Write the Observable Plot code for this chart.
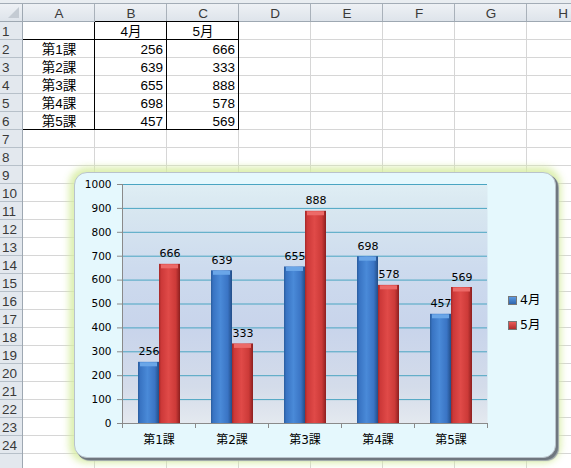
<!DOCTYPE html>
<html><head><meta charset="utf-8">
<script src="https://cdn.jsdelivr.net/npm/d3@7"></script>
<script src="https://cdn.jsdelivr.net/npm/@observablehq/plot@0.6"></script>
<style>
html,body{margin:0;padding:0;}
body{width:571px;height:468px;overflow:hidden;background:#fff;position:relative;font-family:"Noto Sans CJK JP",sans-serif;}
#chart{position:absolute;left:74px;top:172px;width:482px;height:286px;}
#chartbg{position:absolute;left:0;top:0;width:482px;height:286px;box-sizing:border-box;border-radius:13px;background:#e5f8fd;
  border:1px solid #b9c3cb;box-shadow:2px 2px 0 0 #6f777f,3px 3px 1px 0 #9aa2a8,0 0 7px 5px rgba(214,236,160,0.85);}
#chart svg{position:absolute;left:0;top:0;}
.leg{position:absolute;left:434px;font-family:"DejaVu Sans","Noto Sans CJK JP",sans-serif;font-size:12.5px;color:#000;line-height:16px;height:16px;white-space:nowrap;}
.leg i{display:inline-block;width:7px;height:7px;border:1px solid #777;margin-right:3px;vertical-align:-1px;}
</style></head><body>
<div id="sheet"></div>
<div id="chart"><div id="chartbg"></div></div>
<script>
// ---- data ----
const categories = ["第1課", "第2課", "第3課", "第4課", "第5課"];
const seriesNames = ["4月", "5月"];
const april = [256, 639, 655, 698, 457];
const may = [666, 333, 888, 578, 569];
const yTicks = [0, 100, 200, 300, 400, 500, 600, 700, 800, 900, 1000];
const colLetters = ["A", "B", "C", "D", "E", "F", "G", "H"];
const rowNumbers = [1,2,3,4,5,6,7,8,9,10,11,12,13,14,15,16,17,18,19,20,21,22,23,24];

// ---- spreadsheet ----
const W = 571, H = 468, hdrTop = 4, hdrH = 18, rowHdrW = 23, colW = 72, rowH = 18;
const sheetFont = "'Liberation Sans','Noto Sans CJK JP',sans-serif";
const colX = i => rowHdrW + colW * i;
const rowY = n => hdrTop + hdrH + rowH * (n - 1);
const sh = d3.select("#sheet").append("svg").attr("width", W).attr("height", H)
  .style("position", "absolute").style("left", 0).style("top", 0)
  .style("font-family", sheetFont);
const sdefs = sh.append("defs");
const hg = sdefs.append("linearGradient").attr("id", "hdrg").attr("x1", 0).attr("x2", 0).attr("y1", 0).attr("y2", 1);
hg.append("stop").attr("offset", "0%").attr("stop-color", "#eef1f5");
hg.append("stop").attr("offset", "100%").attr("stop-color", "#dde3ea");
sh.append("rect").attr("x", 0).attr("y", 0).attr("width", W).attr("height", hdrTop).attr("fill", "#e9edf1");
sh.append("line").attr("x1", 0).attr("x2", W).attr("y1", hdrTop - 0.5).attr("y2", hdrTop - 0.5).attr("stroke", "#a3acb6");
// grid
colLetters.forEach((c, i) => {
  sh.append("line").attr("x1", colX(i + 1) - 0.5).attr("x2", colX(i + 1) - 0.5).attr("y1", rowY(1)).attr("y2", H).attr("stroke", "#d6d6d6");
});
rowNumbers.concat([25]).forEach(n => {
  sh.append("line").attr("x1", rowHdrW).attr("x2", W).attr("y1", rowY(n + 1) - 0.5).attr("y2", rowY(n + 1) - 0.5).attr("stroke", "#d6d6d6");
});
// column header
sh.append("rect").attr("x", 0).attr("y", hdrTop).attr("width", W).attr("height", hdrH).attr("fill", "url(#hdrg)");
colLetters.forEach((c, i) => {
  sh.append("line").attr("x1", colX(i + 1) - 0.5).attr("x2", colX(i + 1) - 0.5).attr("y1", hdrTop).attr("y2", hdrTop + hdrH).attr("stroke", "#a9b1ba");
  sh.append("text").attr("x", colX(i) + colW / 2).attr("y", hdrTop + 14).attr("text-anchor", "middle")
    .attr("font-size", 13.5).attr("fill", "#3a3a3a").text(c);
});
sh.append("line").attr("x1", 0).attr("x2", W).attr("y1", hdrTop + hdrH - 0.5).attr("y2", hdrTop + hdrH - 0.5).attr("stroke", "#9ea8b2");
// row header
sh.append("rect").attr("x", 0).attr("y", rowY(1)).attr("width", rowHdrW - 1).attr("height", H - rowY(1)).attr("fill", "#e3e8ee");
rowNumbers.concat([25]).forEach(n => {
  sh.append("line").attr("x1", 0).attr("x2", rowHdrW).attr("y1", rowY(n + 1) - 0.5).attr("y2", rowY(n + 1) - 0.5).attr("stroke", "#b7c0c9");
});
rowNumbers.forEach(n => {
  sh.append("text").attr("x", 2).attr("y", rowY(n) + 14).attr("font-size", 13.5).attr("fill", "#3a3a3a").text(n);
});
sh.append("line").attr("x1", rowHdrW - 0.5).attr("x2", rowHdrW - 0.5).attr("y1", hdrTop).attr("y2", H).attr("stroke", "#9ea8b2");
// corner triangle
sh.append("path").attr("d", `M${rowHdrW - 4},${hdrTop + 3} L${rowHdrW - 4},${hdrTop + hdrH - 4} L${rowHdrW - 15},${hdrTop + hdrH - 4} Z`).attr("fill", "#c4cbd3");
// table text
const cellText = (col, row, txt, anchor) => {
  const x = anchor === "end" ? colX(col + 1) - 4 : colX(col) + colW / 2;
  sh.append("text").attr("x", x).attr("y", rowY(row) + 14).attr("text-anchor", anchor)
    .attr("font-size", 13.5).attr("fill", "#000").text(txt);
};
seriesNames.forEach((s, j) => cellText(1 + j, 1, s, "middle"));
categories.forEach((c, i) => {
  cellText(0, i + 2, c, "middle");
  cellText(1, i + 2, april[i], "end");
  cellText(2, i + 2, may[i], "end");
});
// table borders
const bl = (x1, y1, x2, y2) => sh.append("line").attr("x1", x1).attr("y1", y1).attr("x2", x2).attr("y2", y2).attr("stroke", "#000");
[1, 2, 3].forEach(i => bl(colX(i) - 0.5, rowY(1), colX(i) - 0.5, rowY(7)));
bl(colX(1), rowY(1) - 0.5, colX(3), rowY(1) - 0.5);
bl(rowHdrW, rowY(2) - 0.5, colX(3), rowY(2) - 0.5);
bl(rowHdrW, rowY(7) - 0.5, colX(3), rowY(7) - 0.5);

// ---- chart ----
const aprData = categories.map((c, i) => ({cat: c, s: seriesNames[0], v: april[i]}));
const mayData = categories.map((c, i) => ({cat: c, s: seriesNames[1], v: may[i]}));
const font = "'DejaVu Sans','Noto Sans CJK JP',sans-serif";
const barW = 21, leftGap = 16;          // bar layout inside each 73px category band
const half = 36.5;

const svg = Plot.plot({
  width: 482, height: 286,
  marginLeft: 48, marginRight: 69, marginTop: 12, marginBottom: 35,
  style: {background: "transparent", fontFamily: font, color: "#000", overflow: "visible"},
  x: {type: "band", domain: categories, padding: 0, axis: null},
  y: {domain: [0, 1000], axis: null},
  marks: [
    Plot.frame({fill: "url(#plotbg)", stroke: "none"}),
    Plot.ruleY(yTicks.filter(t => t > 0), {stroke: "#4aa5c2", strokeWidth: 1}),
    Plot.barY(aprData, {x: "cat", y: "v", fill: "url(#blueBar)", insetLeft: leftGap, insetRight: 73 - leftGap - barW}),
    Plot.barY(mayData, {x: "cat", y: "v", fill: "url(#redBar)", insetLeft: leftGap + barW, insetRight: 73 - leftGap - 2 * barW}),
    Plot.tickY(aprData, {x: "cat", y: "v", stroke: "#6aa6e8", strokeWidth: 4, dy: 2, insetLeft: leftGap + 2, insetRight: 73 - leftGap - barW + 2}),
    Plot.tickY(mayData, {x: "cat", y: "v", stroke: "#ec6a68", strokeWidth: 4, dy: 2, insetLeft: leftGap + barW + 2, insetRight: 73 - leftGap - 2 * barW + 2}),
    Plot.ruleY([0], {stroke: "#8a8a8a"}),
    Plot.ruleX([categories[0]], {x: d => d, y1: 0, y2: 1000, dx: -half, stroke: "#8a8a8a"}),
    Plot.ruleX(categories, {x: d => d, y1: 0, y2: 0, dx: -half, insetBottom: -5, stroke: "#8a8a8a"}),
    Plot.ruleX([categories[categories.length - 1]], {x: d => d, y1: 0, y2: 0, dx: half, insetBottom: -5, stroke: "#8a8a8a"}),
    Plot.axisY(yTicks, {tickSize: 5, tickPadding: 6, fontSize: 10.5, stroke: "#8a8a8a", fill: "#000", label: null, tickFormat: d => String(d)}),
    Plot.axisX({tickSize: 0, tickPadding: 12, fontSize: 12, fill: "#000", label: null}),
    Plot.text(aprData, {x: "cat", y: "v", text: d => String(d.v), dx: -(half - leftGap - barW / 2), dy: -7, lineAnchor: "bottom", fontSize: 11, fill: "#000"}),
    Plot.text(mayData, {x: "cat", y: "v", text: d => String(d.v), dx: leftGap + barW * 1.5 - half, dy: -7, lineAnchor: "bottom", fontSize: 11, fill: "#000"})
  ]
});

// gradients
const defs = d3.select(svg).insert("defs", ":first-child");
const grad = (id, stops, vertical) => {
  const g = defs.append("linearGradient").attr("id", id)
    .attr("x1", 0).attr("y1", 0).attr("x2", vertical ? 0 : 1).attr("y2", vertical ? 1 : 0);
  stops.forEach(([o, c]) => g.append("stop").attr("offset", o).attr("stop-color", c));
};
grad("plotbg", [["0%", "#dfeef4"], ["12%", "#d7e6f0"], ["35%", "#cddbee"], ["60%", "#c8d4eb"], ["85%", "#d4dcea"], ["100%", "#e4e9ef"]], true);
grad("blueBar", [["0%", "#2a5c9c"], ["10%", "#3873c2"], ["45%", "#4a8ad8"], ["80%", "#3a74c4"], ["100%", "#234e88"]], false);
grad("redBar", [["0%", "#a22828"], ["10%", "#cc3838"], ["45%", "#e04a48"], ["80%", "#cc3a38"], ["100%", "#8c1f1f"]], false);

document.getElementById("chart").appendChild(svg);

// legend
const legColors = [["#2f65ad", "#5b9ae2"], ["#b32c2c", "#ea5a58"]];
seriesNames.forEach((s, j) => {
  const d = document.createElement("div");
  d.className = "leg";
  d.style.top = (120 + j * 25) + "px";
  const sw = document.createElement("i");
  sw.style.background = `linear-gradient(${legColors[j][1]}, ${legColors[j][0]})`;
  d.appendChild(sw);
  d.appendChild(document.createTextNode(s));
  document.getElementById("chart").appendChild(d);
});
</script>
</body></html>
